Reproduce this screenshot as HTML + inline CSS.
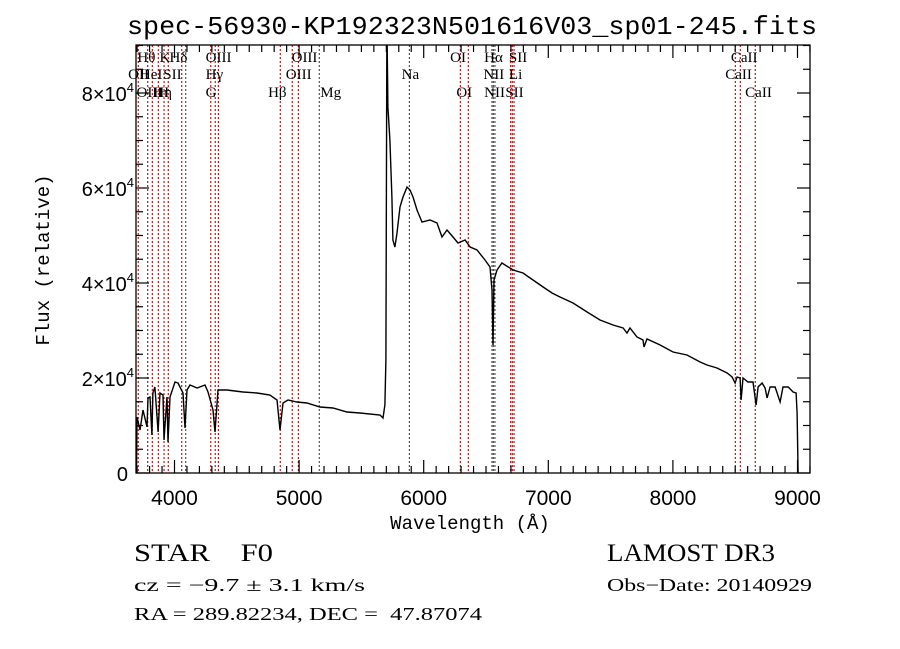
<!DOCTYPE html>
<html><head><meta charset="utf-8"><style>
html,body{margin:0;padding:0;background:#fff;}
svg{display:block;}
.t{font-family:"Liberation Serif",serif;fill:#000;}
.s{font-family:"Liberation Sans",sans-serif;fill:#000;}
.m{font-family:"Liberation Mono",monospace;fill:#000;}
</style></head><body>
<svg id="chart" width="900" height="649" viewBox="0 0 900 649" xmlns="http://www.w3.org/2000/svg">
<rect width="900" height="649" fill="#fff"/>
<text class="m" x="472" y="34" font-size="26" text-anchor="middle" textLength="690" lengthAdjust="spacingAndGlyphs">spec-56930-KP192323N501616V03_sp01-245.fits</text>
<defs><clipPath id="pc"><rect x="136" y="45" width="674" height="428"/></clipPath></defs>
<g id="lines" clip-path="url(#pc)"></g>
<g id="labels"></g>
<g id="spec" clip-path="url(#pc)"></g>
<rect x="136" y="45" width="674" height="428" fill="none" stroke="#000" stroke-width="1.3"/>
<g id="ticks"></g>
<text class="m" x="470" y="529" font-size="19" text-anchor="middle">Wavelength (Å)</text>
<text class="m" transform="translate(49,260) rotate(-90)" font-size="19" text-anchor="middle">Flux (relative)</text>
<text class="t" x="134" y="561" font-size="25" xml:space="preserve" textLength="139" lengthAdjust="spacingAndGlyphs">STAR    F0</text>
<text class="t" x="607" y="561" font-size="25" textLength="168" lengthAdjust="spacingAndGlyphs">LAMOST DR3</text>
<text class="t" x="134" y="591" font-size="18" textLength="231" lengthAdjust="spacingAndGlyphs">cz = −9.7 ± 3.1 km/s</text>
<text class="t" x="607" y="591" font-size="18" textLength="205" lengthAdjust="spacingAndGlyphs">Obs−Date: 20140929</text>
<text class="t" x="134" y="620" font-size="18" xml:space="preserve" textLength="348" lengthAdjust="spacingAndGlyphs">RA = 289.82234, DEC =  47.87074</text>
</svg>
<script>
const wave = [3695,3699,3723,3747,3779,3787,3803,3819,3827,3843,3868,3884,3908,3916,3940,3948,3964,4004,4028,4068,4084,4100,4124,4181,4245,4269,4309,4325,4349,4421,4550,4662,4766,4823,4847,4871,4911,4983,5063,5168,5272,5384,5489,5649,5673,5689,5697,5705,5713,5729,5745,5753,5769,5786,5810,5834,5866,5890,5914,5946,5986,6051,6107,6147,6187,6235,6275,6332,6372,6428,6492,6532,6548,6556,6564,6588,6628,6717,6797,6877,6958,7030,7094,7198,7311,7415,7519,7600,7632,7656,7712,7760,7768,7792,7897,8001,8113,8218,8274,8354,8435,8475,8499,8515,8539,8547,8563,8603,8643,8668,8684,8716,8740,8756,8780,8820,8860,8884,8925,8965,8989,8997,9005];
const flux = [0,11790,9050,13260,9680,15790,16000,8000,16840,18100,8630,16840,16420,6950,16000,6530,16000,19160,18950,16840,9470,17470,18520,17890,18520,17050,13260,8630,17470,17470,17050,16840,16420,15370,9050,14740,15370,14950,14740,13890,13680,12840,12630,12210,11580,14310,23790,95000,77040,70100,58100,49050,47570,50520,56000,58100,60200,59570,58100,55360,52840,53260,52630,49680,51150,49680,48420,49050,47570,46940,44840,43360,38520,26940,40630,42730,44210,42730,42100,40630,39150,37890,37050,35790,33890,32210,31150,30520,29470,30520,28630,28000,26520,28210,26940,25470,24840,23370,22730,22100,21050,20210,18950,20210,20000,15370,20000,19160,19160,14310,18100,18950,17890,15790,18100,18100,14950,18100,18100,17050,16840,12630,0];
const lineWaves = [3709,3785,3822,3870,3916,3950,4058,4090,4291,4327,4352,4849,4945,4994,5162,5885,6294,6358,6548,6559,6572,6698,6711,6725,8501,8541,8661];
const lineColors = ["r","r","r","r","r","r","r","k","r","r","r","r","r","r","k","k","r","r","k","k","k","r","r","r","r","r","r"];
const labelText = ["Hθ","K","Hδ","OIII","OIII","OI","Hα","SII","CaII","OII","HeI","SII","Hγ","OIII","Na","NII","Li","CaII","OIII","Hη","H","G","Hβ","Mg","OI","NII","SII","CaII"];
const labelWave = [3702,3880,3960,4250,4940,6212,6485,6684,8465,3628,3722,3910,4250,4893,5823,6479,6684,8420,3695,3830,3870,4250,4751,5170,6262,6485,6655,8580];
const labelRow = [0,0,0,0,0,0,0,0,0,1,1,1,1,1,1,1,1,1,2,2,2,2,2,2,2,2,2,2];
const yTicks = [0,20000,40000,60000,80000];
const yTickLabels = ["0","2","4","6","8"];
const xTicks = [4000,5000,6000,7000,8000,9000];

const NS = "http://www.w3.org/2000/svg";
const X0=136,X1=810,Y0=473,Y1=45;
function xs(w){return 174.5+(w-4000)*0.1246;}
function ys(f){return 473-f/20000*95;}
function mk(tag,attrs,parent){const e=document.createElementNS(NS,tag);for(const k in attrs)e.setAttribute(k,attrs[k]);parent.appendChild(e);return e;}

const gL=document.getElementById('lines');
lineWaves.forEach((w,i)=>{
  const l=mk('line',{x1:xs(w),x2:xs(w),y1:Y1,y2:Y0,stroke:lineColors[i]==="r"?"#c00000":"#444","stroke-width":1.1,"stroke-dasharray":"2,2"},gL);
  
  
});
const gT=document.getElementById('labels');
const rowY=[62,79,97];
labelText.forEach((t,i)=>{
  const e=mk('text',{x:xs(labelWave[i]),y:rowY[labelRow[i]],"font-size":15,class:"t"},gT);
  e.textContent=t;
  
  
});
const gS=document.getElementById('spec');
let d="";
wave.forEach((w,i)=>{d+=(i?"L":"M")+xs(w).toFixed(1)+","+ys(flux[i]).toFixed(1);});
const p=mk('path',{d:d,fill:"none",stroke:"#000","stroke-width":1.4,"stroke-linejoin":"miter"},gS);



const gK=document.getElementById('ticks');
for(let f=0;f<=90000;f+=5000){
  const len=(f%20000===0)?13:7;
  const y=ys(f);
  mk('line',{x1:X0,x2:X0+len,y1:y,y2:y,stroke:"#000","stroke-width":1.2},gK);
  mk('line',{x1:X1,x2:X1-len,y1:y,y2:y,stroke:"#000","stroke-width":1.2},gK);
}
for(let w=3700;w<=9100;w+=100){
  const len=(w%1000===0)?13:7;
  const x=xs(w);
  if(x<X0||x>X1)continue;
  mk('line',{x1:x,x2:x,y1:Y0,y2:Y0-len,stroke:"#000","stroke-width":1.2},gK);
  mk('line',{x1:x,x2:x,y1:Y1,y2:Y1+len,stroke:"#000","stroke-width":1.2},gK);
}
yTicks.forEach((f,i)=>{
  const y=ys(f);
  const e=mk('text',{x:134,y:y+8,"text-anchor":"end","font-size":20,class:"s"},gK);
  if(f===0){e.textContent="0";e.setAttribute('x',128);}
  else{
    e.textContent=yTickLabels[i]+"×10";
    const s=document.createElementNS(NS,'tspan');s.setAttribute('font-size',13);s.setAttribute('dy',-9);s.textContent="4";e.appendChild(s);
  }
  
  
});
xTicks.forEach(w=>{
  const e=mk('text',{x:xs(w),y:505,"text-anchor":"middle","font-size":21,class:"s"},gK);
  e.textContent=String(w);
  
  
});
</script>
</body></html>
